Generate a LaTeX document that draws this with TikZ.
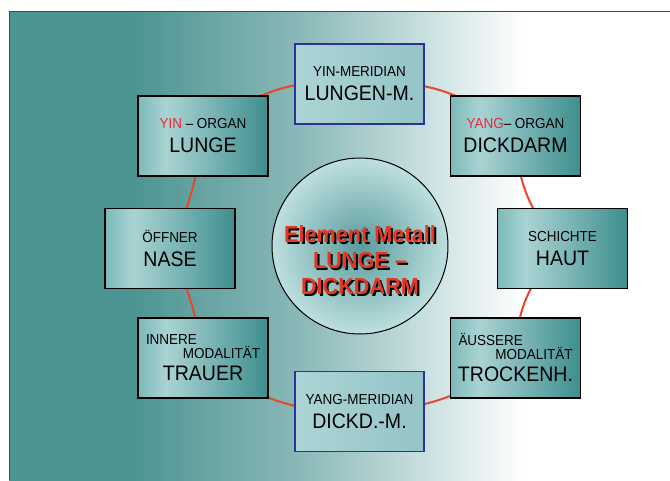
\documentclass[tikz,border=0pt]{standalone}
\usepackage{fontspec}
\setmainfont{Liberation Sans}[FakeStretch=0.93]
\usetikzlibrary{positioning}

\definecolor{bgteal}{RGB}{75,148,145}
\definecolor{bgmida}{RGB}{138,184,184}
\definecolor{bgmidb}{RGB}{205,226,226}
\definecolor{orgleft}{RGB}{125,185,185}
\definecolor{orglight}{RGB}{170,211,211}
\definecolor{orgright}{RGB}{62,142,142}
\definecolor{merleft}{RGB}{172,212,214}
\definecolor{merright}{RGB}{148,196,198}
\definecolor{merblue}{RGB}{45,50,150}
\definecolor{ringred}{RGB}{235,70,40}
\definecolor{yinred}{RGB}{235,40,60}
\definecolor{metallred}{RGB}{230,55,35}
\definecolor{metallin}{RGB}{90,156,156}
\definecolor{metallout}{RGB}{190,223,223}
\definecolor{framegray}{RGB}{70,70,70}

\pgfdeclarehorizontalshading{bgshade}{100bp}{color(0bp)=(bgteal); color(34bp)=(bgteal);
  color(47bp)=(bgmida); color(57bp)=(bgmidb); color(64bp)=(white); color(100bp)=(white)}
\pgfdeclarehorizontalshading{organshade}{100bp}{color(0bp)=(orgleft); color(25bp)=(orgleft);
  color(36bp)=(orglight); color(75bp)=(orgright); color(100bp)=(orgright)}

\pgfdeclarelayer{back}
\pgfdeclarelayer{ring}
\pgfsetlayers{back,ring,main}

\newcommand\smalltxt{\fontsize{14.5}{16}\selectfont}
\newcommand\bigtxt{\fontsize{21}{24}\selectfont}
\newcommand\redshadow[1]{\makebox[0pt][l]{\raisebox{-2pt}{\hspace{2pt}\color{black}#1}}{\color{metallred}#1}}
\newcommand\leftright[3]{\makebox[114pt][l]{#1}\\[-2pt]\makebox[114pt][r]{#2}\\[6pt]{\bigtxt #3}}

\begin{document}
\begin{tikzpicture}[x=1pt,y=1pt,
        organ/.style={rectangle, draw=black, line width=1.5pt, shade, shading=organshade,
                minimum width=130pt, minimum height=80pt, inner sep=0pt, align=center, font=\smalltxt},
        meridian/.style={rectangle, draw=merblue, line width=1.5pt, left color=merleft,
                right color=merright, minimum width=129pt, minimum height=80pt, inner sep=0pt,
                align=center, font=\smalltxt},
        metall/.style={circle, draw=black, line width=1pt, inner color=metallin,
                outer color=metallout, minimum size=176pt, inner sep=0pt},
        metalltext/.style={align=center, font=\bfseries\fontsize{23.3}{26}\selectfont},
        ring/.style={draw=ringred, line width=2pt}]
        \useasboundingbox (0,0) rectangle (670,-480);

        % background panel
        \begin{pgfonlayer}{back}
                \shade[shading=bgshade] (9,-11) rectangle (670,-480);
                \draw[framegray, line width=1pt] (9,-480) |- (670,-11);
        \end{pgfonlayer}

        \node[metall] (metall) at (360,-246) {};
        \node[metalltext] (metalltext) at ([yshift=-15pt]metall.center)
                {\redshadow{Element Metall}\\\redshadow{LUNGE –}\\\redshadow{DICKDARM}};

        \node[meridian] (lungm) at (359.5,-84) {YIN-MERIDIAN\\[8pt]{\bigtxt LUNGEN-M.}};
        \node[organ] (yin) at (203,-136) {{\color{yinred}YIN} – ORGAN\\[8pt]{\bigtxt LUNGE}};
        \node[organ] (yang) [right=181pt of yin] {{\color{yinred}YANG}– ORGAN\\[8pt]{\bigtxt DICKDARM}};
        \node[organ] (oeffner) at (170,-248.5) {ÖFFNER\\[8pt]{\bigtxt NASE}};
        \node[organ] (schichte) [right=261pt of oeffner] {SCHICHTE\\[8pt]{\bigtxt HAUT}};
        \node[organ] (innere) at (203,-358) {\leftright{INNERE}{MODALITÄT}{TRAUER}};
        \node[organ] (aeussere) [right=181pt of innere] {\leftright{ÄUSSERE}{MODALITÄT}{TROCKENH.}};
        \node[meridian] (dickdm) at (359.5,-411.5) {YANG-MERIDIAN\\[8pt]{\bigtxt DICKD.-M.}};

        % red ring behind the boxes
        \begin{pgfonlayer}{ring}
                \path[ring]
                (yin.center) edge [bend left=25] (lungm.center)
                (lungm.center) edge [bend left=24] (yang.center)
                (yang.center) edge [bend right=20] (schichte.center)
                (schichte.center) edge [bend right=23] (aeussere.center)
                (aeussere.center) edge [bend left=18] (dickdm.center)
                (dickdm.center) edge [bend left=20] (innere.center)
                (innere.center) edge [bend right=8] (oeffner.center)
                (oeffner.center) edge [bend right=8] (yin.center)
                ;
        \end{pgfonlayer}
\end{tikzpicture}
\end{document}
